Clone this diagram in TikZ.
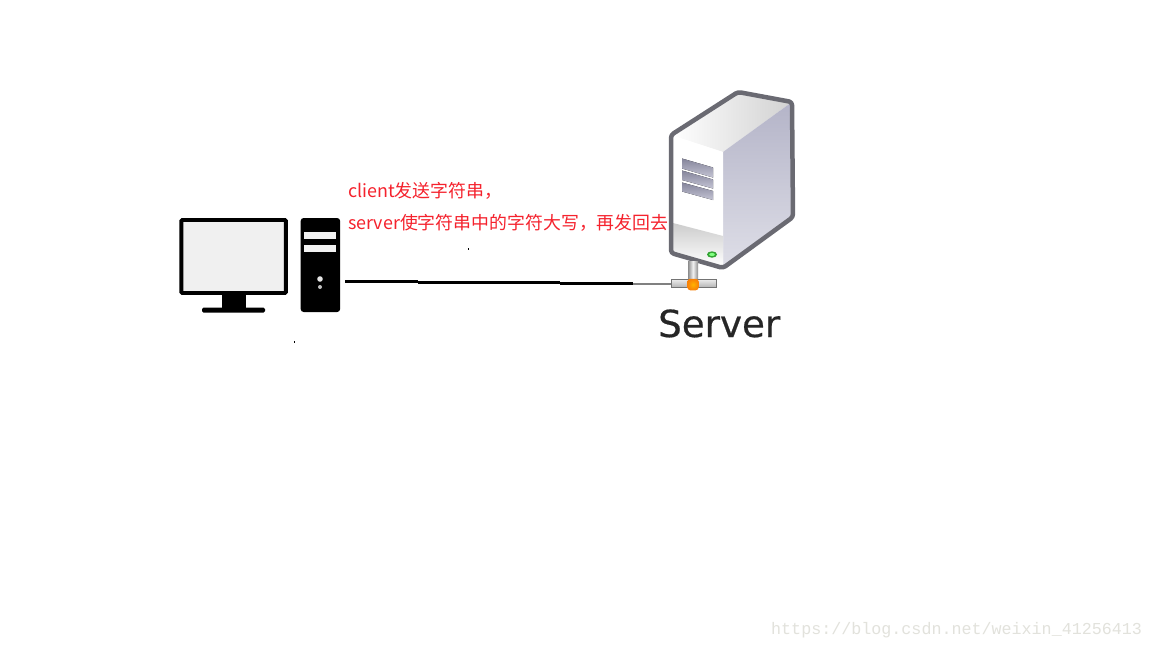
\documentclass[tikz,border=0pt]{standalone}
\usepackage{fontspec}
\setmainfont{DejaVu Sans}
\newfontfamily\cjk{Noto Sans CJK SC}
\newfontfamily\wm{Liberation Mono}
\newfontfamily\srv[FakeBold=0.5]{DejaVu Sans}
\definecolor{outl}{HTML}{6A6A72}
\definecolor{redt}{HTML}{F5222D}
\definecolor{lav}{HTML}{C4C4D4}
\definecolor{lavd}{HTML}{B4B4C8}
\definecolor{ventd}{HTML}{85859B}
\definecolor{wmc}{HTML}{E2E2DC}
\tikzset{
  px/.style={x=1pt,y=-1pt},
  blk/.style={fill=black,draw=none},
  wire/.style={line width=3pt,black},
  note/.style={anchor=base west,inner sep=0,text=redt,font=\cjk\fontsize{17.9}{20}\selectfont},
  vent/.style={draw=none,bottom color=lav,top color=ventd},
  speck/.style={fill=black,draw=none}
}
\begin{document}
\begin{tikzpicture}[px]
\useasboundingbox (0,0) rectangle (1152,648);
\fill[white] (0,0) rectangle (1152,648);
% PC monitor
\node[draw=black,line width=3.8pt,fill=black!6,rounded corners=1pt,minimum width=104.5pt,minimum height=73pt,inner sep=0,anchor=center] (monitor) at (233.6,256.5) {};
\fill[blk] (222,295) rectangle (246,309);
\fill[blk,rounded corners=1.5pt] (202,307.5) rectangle (265,312.5);
% PC tower
\node[fill=black,rounded corners=3pt,minimum width=39.5pt,minimum height=94pt,inner sep=0] (tower) at (320.4,265) {};
\fill[black!5] (304,232) rectangle (336,239);
\fill[black!5] (304,245) rectangle (336,252);
\fill[black!10] (320,279) circle (2.8pt);
\fill[black!25] (320,287) circle (2pt);
% server faces
\shade[left color=white,right color=black!18,draw=none] (671,135) -- (738,92) -- (792,102) -- (723,152) -- cycle;
\shade[top color=lavd,bottom color=lav!55!white,draw=none] (723,152) -- (792,102) -- (793,217) -- (723,268) -- cycle;
\fill[white] (671,135) -- (723,152) -- (723,268) -- (671,253) -- cycle;
\shade[top color=black!20,bottom color=white,draw=none] (673,223) -- (723,236) -- (723,266) -- (673,252) -- cycle;
\draw[outl,line width=4.5pt,line join=round,rounded corners=3pt] (671,135) -- (738,92) -- (792,102) -- (793,217) -- (723,268) -- (671,253) -- cycle;
% vents
\fill[vent] (682,158.5) -- (713,167.5) -- (713,177.5) -- (682,168.5) -- cycle;
\fill[vent] (682,170.5) -- (713,179.5) -- (713,188.5) -- (682,180) -- cycle;
\fill[vent] (682,182.5) -- (713,191) -- (713,200) -- (682,191.5) -- cycle;
% LED
\fill[green!55!black!80] (712,254.5) ellipse (5pt and 3.2pt);
\fill[green!50!white] (712,254.5) ellipse (2.8pt and 1.6pt);
% network connector
\node[draw=none,minimum width=10pt,minimum height=19pt,inner sep=0,left color=black!45,right color=black!45,middle color=black!5] (stem) at (693,271) {};
\node[draw=black!55,line width=1.2pt,minimum width=45pt,minimum height=8pt,inner sep=0,top color=black!8,bottom color=black!30] (bar) at (694,283.5) {};
\node[rounded corners=3pt,minimum size=11.5pt,inner sep=0,inner color=orange!60!yellow,outer color=orange!90!brown] (hub) at (693,284.5) {};
% wires
\coordinate (w0) at (345,281.5);
\coordinate (w1) at (418,281.5);
\coordinate (w2) at (418,282.5);
\coordinate (w3) at (560,282.5);
\coordinate (w4) at (560,283.5);
\coordinate (w5) at (633,283.5);
\draw[wire] (w0) -- (w1);
\draw[wire] (w2) -- (w3);
\draw[wire] (w4) -- (w5);
\draw[line width=2pt,black!50] (w5) -- (bar.west);
% labels
\node[anchor=base west,inner sep=0,text=black!85,font=\srv\fontsize{37.2}{40}\selectfont] (serverlabel) at (658,337) {Server};
\node[note] (note1) at (348,197) {client发送字符串，};
\node[note] (note2) at (348,229) {server使字符串中的字符大写，再发回去};
\node[anchor=base west,inner sep=0,text=wmc,font=\wm\fontsize{16.7}{18}\selectfont] (mark) at (771,634) {https://blog.csdn.net/weixin\_41256413};
% specks
\fill[speck] (467.5,248) rectangle (469,250);
\fill[speck] (293.5,341) rectangle (295,342.5);
\end{tikzpicture}
\end{document}
